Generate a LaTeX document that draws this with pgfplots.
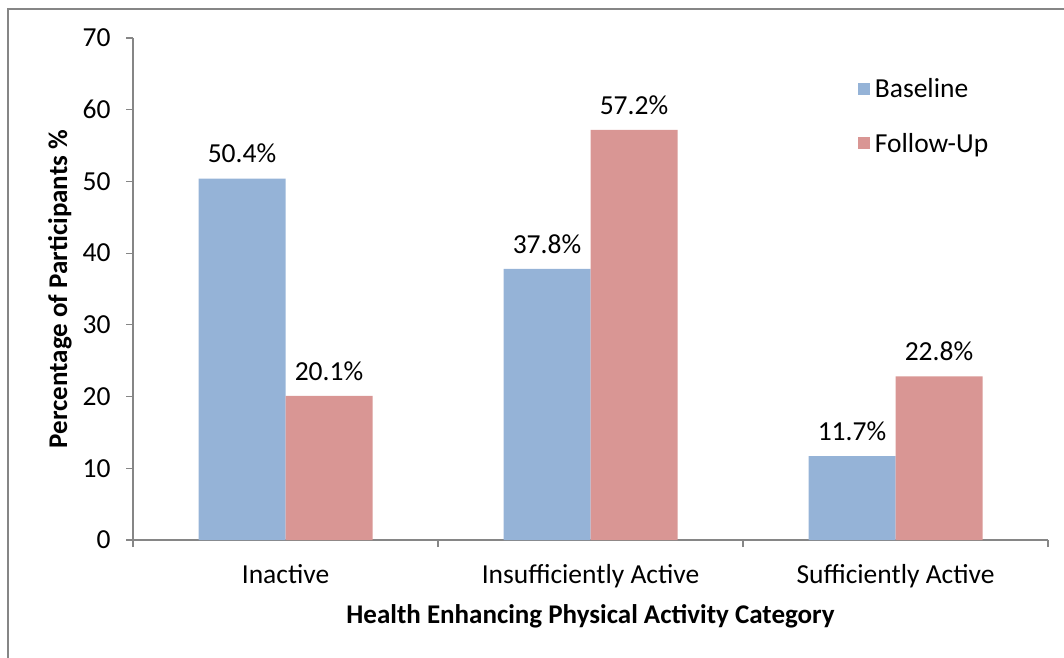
\documentclass[border=0pt]{standalone}
\usepackage{pgfplots}
\pgfplotsset{compat=1.18}
\usepackage{fontspec}
\setmainfont{Carlito}
\definecolor{bblue}{HTML}{95B3D7}
\definecolor{bred}{HTML}{D99694}
\definecolor{axgray}{HTML}{868686}
\begin{document}
\begin{tikzpicture}[x=1pt,y=1pt]
\useasboundingbox (0,0) rectangle (1064,657);
\draw[axgray, line width=2pt] (8,-5) -- (8,648) -- (1070,648);
\begin{axis}[
  at={(133pt,117pt)}, anchor=south west,
  scale only axis, width=915pt, height=502pt,
  xmin=-0.5, xmax=2.5, ymin=0, ymax=70,
  ytick={0,10,...,70},
  xtick={0,1,2},
  xticklabels={Inactive,Insufficiently Active,Sufficiently Active},
  minor xtick={-0.5,0.5,1.5,2.5},
  axis x line*=bottom, axis y line*=left,
  axis line style={axgray, line width=1.2pt, -},
  tick align=outside,
  major tick length=7pt, minor tick length=7pt,
  major x tick style={draw=none},
  minor x tick style={axgray, line width=1.2pt},
  major y tick style={axgray, line width=1.2pt},
  /pgf/number format/assume math mode=true,
  tick label style={font=\fontsize{27.5}{33}\selectfont, text=black},
  yticklabel style={xshift=-12pt},
  xticklabel style={yshift=-14pt},
  every axis y label/.style={at={(axis description cs:-0.0798,0.5)}, rotate=90, anchor=center},
  every axis x label/.style={at={(axis description cs:0.5,-0.152)}, anchor=center},
  label style={font=\fontsize{27}{32}\selectfont\bfseries},
  xlabel={Health Enhancing Physical Activity Category},
  ylabel={Percentage of Participants \%},
  ybar=0pt, bar width=87pt,
  nodes near coords={\pgfmathprintnumber[fixed,precision=1,fixed zerofill]{\pgfplotspointmeta}\%},
  every node near coord/.append style={font=\fontsize{27.5}{33}\selectfont, text=black, yshift=12pt},
  legend style={at={(0.792,0.924)}, anchor=north west, draw=none, fill=none,
    font=\fontsize{27.5}{33}\selectfont, row sep=30pt, inner sep=0pt},
  legend cell align=left,
]
\addplot[fill=bblue, draw=none, legend image code/.code={\fill[bblue] (0pt,-6pt) rectangle (12pt,6pt); \path (15pt,0pt);}]
  coordinates {(0,50.4) (1,37.8) (2,11.7)};
\addlegendentry{Baseline}
\addplot[fill=bred, draw=none, legend image code/.code={\fill[bred] (0pt,-6pt) rectangle (12pt,6pt); \path (15pt,0pt);}]
  coordinates {(0,20.1) (1,57.2) (2,22.8)};
\addlegendentry{Follow-Up}
\end{axis}
\end{tikzpicture}
\end{document}
